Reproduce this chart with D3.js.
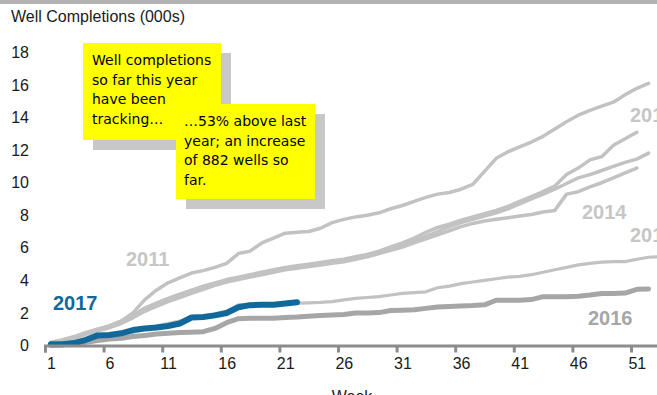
<!DOCTYPE html>
<html>
<head>
<meta charset="utf-8">
<script src="https://cdn.jsdelivr.net/npm/d3@7"></script>
<style>
  body { margin: 0; background: #fff; }
  svg { display: block; font-family: "Liberation Sans", Arial, sans-serif; }
</style>
</head>
<body>
<div id="chart"></div>
<script>
var width = 657;
var height = 395;

// cumulative well completions (000s) by week
var y2011 = [0.15,0.3,0.5,0.75,1.0,1.2,1.5,2.0,2.8,3.4,3.85,4.15,4.45,4.6,4.8,5.05,5.65,5.8,6.3,6.6,6.9,6.95,7.0,7.2,7.55,7.75,7.9,8.0,8.15,8.4,8.6,8.85,9.1,9.3,9.4,9.6,9.9,10.7,11.5,11.9,12.2,12.5,12.85,13.3,13.75,14.15,14.45,14.7,14.95,15.4,15.8,16.1];
var y2012 = [0.2,0.35,0.55,0.8,1.0,1.2,1.5,1.85,2.3,2.6,2.9,3.15,3.4,3.65,3.85,4.05,4.2,4.35,4.5,4.65,4.8,4.9,5.0,5.1,5.2,5.3,5.45,5.6,5.8,6.05,6.3,6.6,6.95,7.25,7.45,7.7,7.9,8.1,8.3,8.55,8.85,9.15,9.45,9.8,10.5,10.9,11.4,11.6,12.3,12.7,13.1];
var y2013 = [0.15,0.3,0.45,0.7,0.9,1.1,1.4,1.75,2.15,2.45,2.75,3.0,3.25,3.5,3.75,3.95,4.1,4.25,4.4,4.55,4.7,4.8,4.9,5.0,5.1,5.2,5.35,5.5,5.7,5.95,6.15,6.4,6.7,7.0,7.3,7.55,7.75,7.95,8.15,8.4,8.7,9.0,9.3,9.6,9.95,10.3,10.5,10.75,11.0,11.25,11.45,11.82];
var y2014 = [0.1,0.25,0.45,0.7,0.9,1.1,1.35,1.7,2.1,2.4,2.7,2.95,3.2,3.45,3.7,3.9,4.05,4.2,4.35,4.5,4.65,4.75,4.85,4.95,5.05,5.15,5.3,5.45,5.65,5.85,6.05,6.3,6.55,6.8,7.05,7.3,7.5,7.65,7.75,7.85,7.95,8.05,8.2,8.3,9.3,9.45,9.75,10.0,10.3,10.6,10.9];
var y2015 = [0.1,0.15,0.25,0.4,0.5,0.6,0.7,0.8,1.0,1.2,1.35,1.5,1.65,1.8,1.95,2.1,2.5,2.55,2.55,2.55,2.6,2.6,2.62,2.65,2.7,2.8,2.9,2.95,3.0,3.1,3.2,3.25,3.3,3.55,3.65,3.8,3.9,4.0,4.1,4.2,4.25,4.35,4.5,4.65,4.8,4.95,5.05,5.12,5.15,5.15,5.3,5.42,5.45];
var y2016 = [0.02,0.05,0.1,0.2,0.3,0.4,0.45,0.55,0.62,0.7,0.75,0.8,0.82,0.85,1.05,1.4,1.65,1.68,1.68,1.68,1.72,1.75,1.8,1.85,1.87,1.9,2.0,2.0,2.02,2.15,2.17,2.2,2.28,2.37,2.4,2.42,2.45,2.5,2.78,2.78,2.78,2.82,3.0,3.0,3.0,3.02,3.1,3.2,3.2,3.22,3.45,3.47];
var y2017 = [0.08,0.08,0.15,0.35,0.62,0.65,0.75,0.95,1.05,1.1,1.2,1.35,1.72,1.75,1.85,2.0,2.35,2.48,2.5,2.5,2.58,2.66];

var xTickLabels = [1, 6, 11, 16, 21, 26, 31, 36, 41, 46, 51];
var yTicks = [0, 2, 4, 6, 8, 10, 12, 14, 16, 18];

var note1 = ["Well completions", "so far this year", "have been", "tracking…"];
var note2 = ["…53% above last", "year; an increase", "of 882 wells so", "far."];

var svg = d3.select("#chart")
  .append("svg")
  .attr("width", width)
  .attr("height", height);

// top band
svg.append("rect")
  .attr("x", 0).attr("y", 0)
  .attr("width", width).attr("height", 4)
  .attr("fill", "#b3b3b3");

svg.append("text")
  .attr("x", 11)
  .attr("y", 22)
  .attr("font-size", 16)
  .attr("fill", "#1a1a1a")
  .text("Well Completions (000s)");

var xScale = d3.scaleLinear()
  .domain([0.5, 53.5])
  .range([45, 45 + 53 * 11.72]);

var yScale = d3.scaleLinear()
  .domain([0, 18])
  .range([345.5, 52.5]);

// y labels only, no axis line
var yAxis = d3.axisLeft(yScale).tickValues(yTicks).tickSize(0).tickPadding(4);
var yg = svg.append("g").attr("transform", "translate(33,0)").call(yAxis);
yg.select(".domain").remove();
yg.selectAll("text").attr("font-size", 16).attr("fill", "#1a1a1a").attr("font-family", "Liberation Sans, Arial, sans-serif");

// series
var series = [
  { name: "2011", values: y2011, color: "#c2c2c2", w: 3.5 },
  { name: "2012", values: y2012, color: "#c2c2c2", w: 3.5 },
  { name: "2013", values: y2013, color: "#c2c2c2", w: 3.5 },
  { name: "2014", values: y2014, color: "#c2c2c2", w: 3.5 },
  { name: "2015", values: y2015, color: "#c2c2c2", w: 3.2 },
  { name: "2016", values: y2016, color: "#a6a6a6", w: 5 },
  { name: "2017", values: y2017, color: "#10689b", w: 6 }
];

var line = d3.line()
  .x(function(d, i) { return xScale(i + 1); })
  .y(function(d) { return yScale(d); });

svg.selectAll(".series")
  .data(series)
  .enter()
  .append("path")
  .attr("class", "series")
  .attr("d", function(d) { return line(d.values); })
  .attr("fill", "none")
  .attr("stroke", function(d) { return d.color; })
  .attr("stroke-width", function(d) { return d.w; })
  .attr("stroke-linejoin", "round")
  .attr("stroke-linecap", "round");

// x axis: tick marks at week boundaries, labels at week centres
var xTicks = d3.axisBottom(xScale)
  .tickValues(d3.range(0.5, 54, 5))
  .tickSize(7)
  .tickFormat("");
var xg = svg.append("g").attr("transform", "translate(0,345.5)").call(xTicks);
xg.select(".domain").attr("stroke", "#8c8c8c").attr("stroke-width", 3);
xg.selectAll(".tick line").attr("stroke", "#8c8c8c").attr("stroke-width", 3);

var xLabels = d3.axisBottom(xScale)
  .tickValues(xTickLabels)
  .tickSize(0)
  .tickPadding(12);
var xl = svg.append("g").attr("transform", "translate(0,345.5)").call(xLabels);
xl.select(".domain").remove();
xl.selectAll("text").attr("font-size", 16).attr("fill", "#1a1a1a").attr("font-family", "Liberation Sans, Arial, sans-serif");

svg.append("text")
  .attr("x", 352)
  .attr("y", 402)
  .attr("text-anchor", "middle")
  .attr("font-size", 16)
  .attr("fill", "#1a1a1a")
  .text("Week");

// year labels
var yearLabels = [
  { t: "2011", x: 126, y: 266, c: "#c6c6c6" },
  { t: "2017", x: 53, y: 310, c: "#10689b" },
  { t: "2014", x: 582, y: 219, c: "#c6c6c6" },
  { t: "2012", x: 630, y: 122, c: "#c6c6c6" },
  { t: "2015", x: 630, y: 242, c: "#c6c6c6" },
  { t: "2016", x: 588, y: 325, c: "#a6a6a6" }
];
svg.selectAll(".yl")
  .data(yearLabels)
  .enter()
  .append("text")
  .attr("class", "yl")
  .attr("x", function(d) { return d.x; })
  .attr("y", function(d) { return d.y; })
  .attr("font-size", 20)
  .attr("font-weight", "bold")
  .attr("fill", function(d) { return d.c; })
  .text(function(d) { return d.t; });

// callout boxes
function callout(x, y, w, h, lines, tx, ty) {
  svg.append("rect").attr("x", x + 10).attr("y", y + 10).attr("width", w).attr("height", h).attr("fill", "#c8c8c8");
  svg.append("rect").attr("x", x).attr("y", y).attr("width", w).attr("height", h).attr("fill", "#ffff00");
  svg.selectAll(null)
    .data(lines)
    .enter()
    .append("text")
    .attr("x", tx)
    .attr("y", function(d, i) { return ty + i * 19.5; })
    .attr("font-size", 14)
    .attr("font-family", "'Comic Sans MS', 'DejaVu Sans', sans-serif")
    .attr("fill", "#000")
    .text(function(d) { return d; });
}
callout(83, 43, 138, 97, note1, 92, 65);
callout(176, 104, 139, 95, note2, 184, 126);
</script>
</body>
</html>
